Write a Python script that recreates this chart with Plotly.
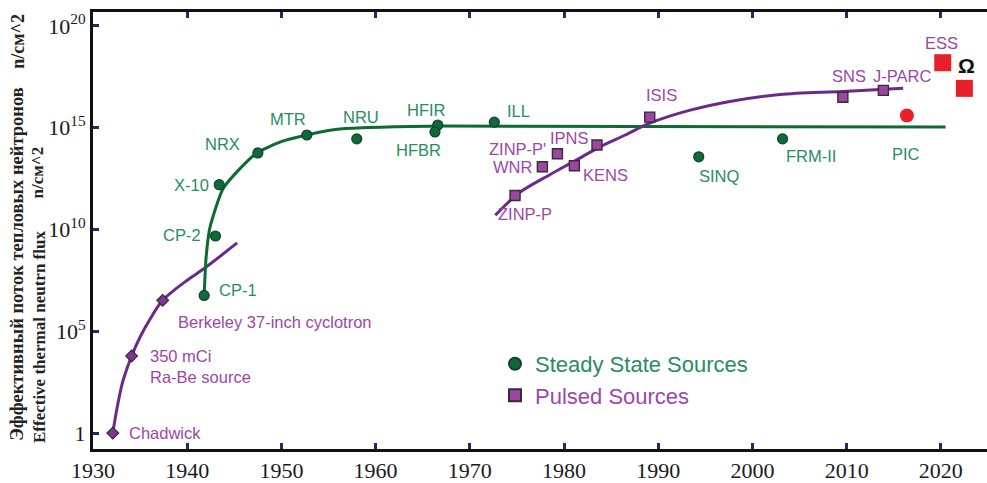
import numpy as np
import plotly.graph_objects as go

# ---- data: year and log10 of effective thermal neutron flux (n/cm^2) ----
early_names = ["Chadwick", "350 mCi<br>Ra-Be source", "Berkeley 37-inch cyclotron"]
early_years = [1932.1, 1934.1, 1937.4]
early_log = [0.0, 3.79, 6.52]

steady_names = ["CP-1", "CP-2", "X-10", "NRX", "MTR", "NRU", "HFIR", "HFBR", "ILL", "SINQ", "FRM-II"]
steady_years = [1941.8, 1943.0, 1943.4, 1947.5, 1952.7, 1958.0, 1966.6, 1966.3, 1972.6, 1994.3, 2003.2]
steady_log = [6.76, 9.68, 12.2, 13.76, 14.64, 14.45, 15.13, 14.79, 15.27, 13.57, 14.45]

pulsed_names = ["ZINP-P", "WNR", "ZINP-P'", "KENS", "IPNS", "ISIS", "SNS", "J-PARC"]
pulsed_years = [1974.8, 1977.7, 1979.3, 1981.1, 1983.5, 1989.1, 2009.6, 2013.9]
pulsed_log = [11.67, 13.08, 13.72, 13.13, 14.15, 15.52, 16.49, 16.83]

future_steady_names = ["PIC"]
future_steady_years = [2016.4]
future_steady_log = [15.6]

future_pulsed_names = ["ESS", "Ω"]
future_pulsed_years = [2020.2, 2022.5]
future_pulsed_log = [18.19, 16.93]

# trend curves (control points)
early_trend_years = [1932.1, 1932.55, 1933.1, 1933.6, 1934.1, 1935.0, 1936.05, 1937.4, 1939.8, 1941.9, 1945.3]
early_trend_log = [0.0, 1.22, 2.43, 3.16, 3.79, 4.72, 5.59, 6.52, 7.44, 8.12, 9.34]

steady_trend_years = [1941.8, 1942.0, 1942.4, 1943.8, 1945.6, 1947.4, 1949.9, 1952.7, 1956.2, 1966.8, 2020.5]
steady_trend_log = [6.76, 8.6, 10.07, 12.0, 12.99, 13.76, 14.3, 14.64, 14.93, 15.08, 15.03]

pulsed_trend_years = [1972.7, 1975.3, 1978.5, 1981.2, 1983.8, 1986.5, 1989.1, 1993.4, 1997.6, 2002.9, 2009.6, 2016.0]
pulsed_trend_log = [10.70, 11.82, 12.69, 13.38, 14.06, 14.64, 15.22, 15.86, 16.29, 16.63, 16.78, 16.93]

x_ticks = [1930, 1940, 1950, 1960, 1970, 1980, 1990, 2000, 2010, 2020]
y_tick_exp = [0, 5, 10, 15, 20]
y_tick_text = ["1", "10<sup>5</sup>", "10<sup>10</sup>", "10<sup>15</sup>", "10<sup>20</sup>"]

# ---- styles ----
GREEN_LINE = "#0b6b32"
GREEN_MARK = "#0e6a3a"
GREEN_TEXT = "#2a8c62"
PURPLE_LINE = "#6b2a88"
PURPLE_MARK = "#9a479f"
PURPLE_TEXT = "#9c47a6"
RED = "#e8202a"
TICK = "#1f2a6b"


def flux(logs):
    return [10.0 ** v for v in logs]


fig = go.Figure()

fig.add_trace(go.Scatter(x=early_trend_years, y=flux(early_trend_log), mode="lines",
                         line=dict(color=PURPLE_LINE, width=3, shape="spline", smoothing=1.0),
                         showlegend=False, hoverinfo="skip"))
fig.add_trace(go.Scatter(x=steady_trend_years, y=flux(steady_trend_log), mode="lines",
                         line=dict(color=GREEN_LINE, width=3, shape="spline", smoothing=0.6),
                         showlegend=False, hoverinfo="skip"))
fig.add_trace(go.Scatter(x=pulsed_trend_years, y=flux(pulsed_trend_log), mode="lines",
                         line=dict(color=PURPLE_LINE, width=3, shape="spline", smoothing=0.9),
                         showlegend=False, hoverinfo="skip"))

fig.add_trace(go.Scatter(x=early_years, y=flux(early_log), mode="markers",
                         marker=dict(symbol="diamond", size=9, color="#7a3a8c",
                                     line=dict(color="#3a2040", width=1.2)),
                         showlegend=False, text=early_names, hoverinfo="text"))
fig.add_trace(go.Scatter(x=steady_years, y=flux(steady_log), mode="markers",
                         name="<span style='color:%s'>Steady State Sources</span>" % GREEN_TEXT,
                         marker=dict(symbol="circle", size=10, color=GREEN_MARK,
                                     line=dict(color="#17402a", width=1.2)),
                         text=steady_names, hoverinfo="text"))
fig.add_trace(go.Scatter(x=pulsed_years, y=flux(pulsed_log), mode="markers",
                         name="<span style='color:%s'>Pulsed Sources</span>" % PURPLE_TEXT,
                         marker=dict(symbol="square", size=10, color=PURPLE_MARK,
                                     line=dict(color="#3a2a3c", width=1.4)),
                         text=pulsed_names, hoverinfo="text"))
fig.add_trace(go.Scatter(x=future_steady_years, y=flux(future_steady_log), mode="markers",
                         marker=dict(symbol="circle", size=14, color=RED),
                         showlegend=False, text=future_steady_names, hoverinfo="text"))
fig.add_trace(go.Scatter(x=future_pulsed_years, y=flux(future_pulsed_log), mode="markers",
                         marker=dict(symbol="square", size=17, color=RED),
                         showlegend=False, text=future_pulsed_names, hoverinfo="text"))

# label offsets in pixels: (xshift, yshift, xanchor)
label_offsets = {
    "Chadwick": (14, 0, "left"),
    "350 mCi<br>Ra-Be source": (16, -11, "left"),
    "Berkeley 37-inch cyclotron": (13, -22, "left"),
    "CP-1": (13, 5, "left"),
    "CP-2": (-33, 1, "center"),
    "X-10": (-28, 0, "center"),
    "NRX": (-35, 9, "center"),
    "MTR": (-19, 16, "center"),
    "NRU": (4, 22, "center"),
    "HFIR": (-11, 15, "center"),
    "HFBR": (-16, -18, "center"),
    "ILL": (24, 11, "center"),
    "SINQ": (21, -19, "center"),
    "FRM-II": (28, -17, "center"),
    "PIC": (-1, -39, "center"),
    "ZINP-P": (10, -19, "center"),
    "WNR": (-30, 0, "center"),
    "ZINP-P'": (-40, 5, "center"),
    "KENS": (31, -9, "center"),
    "IPNS": (-27, 7, "center"),
    "ISIS": (12, 22, "center"),
    "SNS": (6, 21, "center"),
    "J-PARC": (19, 14, "center"),
    "ESS": (-1, 20, "center"),
    "Ω": (2, 23, "center"),
}

label_font = "Liberation Sans, Arial, sans-serif"
LABEL_SIZE = 16.5
groups = [
    (early_names, early_years, early_log, PURPLE_TEXT),
    (steady_names, steady_years, steady_log, GREEN_TEXT),
    (future_steady_names, future_steady_years, future_steady_log, GREEN_TEXT),
    (pulsed_names, pulsed_years, pulsed_log, PURPLE_TEXT),
    (future_pulsed_names[:1], future_pulsed_years[:1], future_pulsed_log[:1], PURPLE_TEXT),
]
for names, xs, ys, color in groups:
    for name, xv, yv in zip(names, xs, ys):
        dx, dy, anchor = label_offsets[name]
        fig.add_annotation(x=xv, y=yv, xref="x", yref="y", text=name, showarrow=False,
                           xshift=dx, yshift=dy, xanchor=anchor, yanchor="middle",
                           align="left",
                           font=dict(family=label_font, size=LABEL_SIZE, color=color))

omega = future_pulsed_names[1]
dx, dy, anchor = label_offsets[omega]
fig.add_annotation(x=future_pulsed_years[1], y=future_pulsed_log[1], xref="x", yref="y",
                   text="<b>%s</b>" % omega, showarrow=False, xshift=dx, yshift=dy,
                   xanchor=anchor, yanchor="middle",
                   font=dict(family=label_font, size=21, color="#111111"))

# rotated axis titles
serif = "Liberation Serif, Times New Roman, serif"
plot_left, plot_width = 93, 894
plot_bottom, plot_height = 453, 441


def px_x(p):
    return (p - plot_left) / plot_width


def px_y(p):
    return (plot_bottom - p) / plot_height


for text, cx, cy, size in [
    ("<b>Эффективный поток тепловых нейтронов</b>", 17, 267, 18.5),
    ("<b>n/cм^2</b>", 18, 42, 18),
    ("<b>Effective thermal neutrn flux</b>", 39, 340, 17),
    ("<b>n/cм^2</b>", 38, 174, 17),
]:
    fig.add_annotation(x=px_x(cx), y=px_y(cy), xref="paper", yref="paper", text=text,
                       showarrow=False, textangle=-90, xanchor="center", yanchor="middle",
                       font=dict(family=serif, size=size, color="#222222"))

axis_font = dict(family=serif, size=22, color="#1a1a1a")

fig.update_layout(
    width=987, height=483,
    margin=dict(l=93, r=0, t=12, b=30),
    paper_bgcolor="white", plot_bgcolor="white",
    showlegend=True,
    legend=dict(x=px_x(495), y=px_y(346), xanchor="left", yanchor="top",
                font=dict(family=label_font, size=22), bgcolor="rgba(0,0,0,0)",
                itemsizing="constant", tracegroupgap=0),
    xaxis=dict(range=[1930, 2024.9], tickvals=x_ticks, ticks="inside", ticklen=6,
               tickwidth=3, tickcolor=TICK, showline=True, linecolor="#111111",
               linewidth=3, mirror="ticks", showgrid=False, zeroline=False,
               tickfont=axis_font),
    yaxis=dict(type="log", range=[-0.78, 20.68], tickvals=flux(y_tick_exp),
               ticktext=y_tick_text, ticks="inside", ticklen=6, tickwidth=3,
               tickcolor=TICK, showline=True, linecolor="#111111", linewidth=3,
               showgrid=False, zeroline=False, tickfont=axis_font),
)

fig.write_html("out.html")
